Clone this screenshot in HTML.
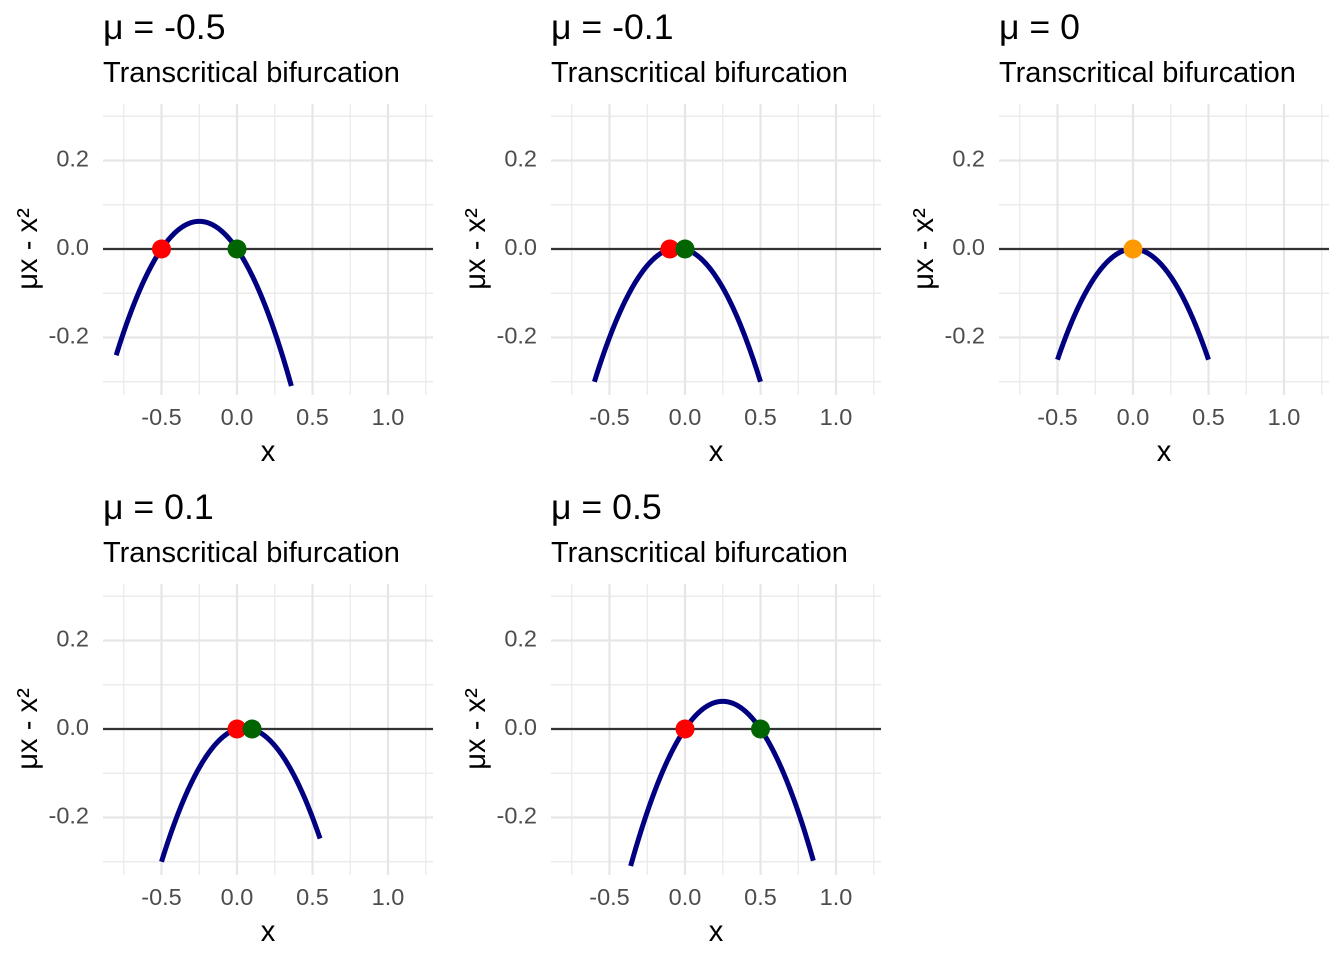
<!DOCTYPE html>
<html><head><meta charset="utf-8"><style>
html,body{margin:0;padding:0;background:#fff;}
svg{display:block;font-family:"Liberation Sans",Arial,sans-serif;}
</style></head><body>
<svg id="s" width="1344" height="960" xmlns="http://www.w3.org/2000/svg"></svg>
<script>
const s=document.getElementById('s');
let h='';
const F=1.62;
const panels=[
 {mu:-0.5,lab:'-0.5',dx:0,dy:0,x0:-0.8,x1:0.36,pts:[[-0.5,'#ff0000'],[0,'#006400']]},
 {mu:-0.1,lab:'-0.1',dx:448,dy:0,x0:-0.6,x1:0.5,pts:[[-0.1,'#ff0000'],[0,'#006400']]},
 {mu:0,lab:'0',dx:896,dy:0,x0:-0.5,x1:0.5,pts:[[0,'#ff9900']]},
 {mu:0.1,lab:'0.1',dx:0,dy:480,x0:-0.5,x1:0.55,pts:[[0,'#ff0000'],[0.1,'#006400']]},
 {mu:0.5,lab:'0.5',dx:448,dy:480,x0:-0.36,x1:0.85,pts:[[0,'#ff0000'],[0.5,'#006400']]},
];
panels.forEach((p,i)=>{
 const X=v=>p.dx+237+v*151, Y=v=>p.dy+249-v*442.5;
 const L=p.dx+103,R=p.dx+433,T=p.dy+104,B=p.dy+395;
 h+=`<clipPath id="c${i}"><rect x="${L}" y="${T}" width="${R-L}" height="${B-T}"/></clipPath>`;
 [-0.75,-0.25,0.25,0.75,1.25].forEach(v=>h+=`<line x1="${X(v)}" x2="${X(v)}" y1="${T}" y2="${B}" stroke="#e8e8e8" stroke-width="1.2"/>`);
 [-0.3,-0.1,0.1,0.3].forEach(v=>h+=`<line x1="${L}" x2="${R}" y1="${Y(v)}" y2="${Y(v)}" stroke="#e8e8e8" stroke-width="1.2"/>`);
 [-0.5,0,0.5,1].forEach(v=>h+=`<line x1="${X(v)}" x2="${X(v)}" y1="${T}" y2="${B}" stroke="#e6e6e6" stroke-width="2.2"/>`);
 [-0.2,0,0.2].forEach(v=>h+=`<line x1="${L}" x2="${R}" y1="${Y(v)}" y2="${Y(v)}" stroke="#e6e6e6" stroke-width="2.2"/>`);
 h+=`<line x1="${L}" x2="${R}" y1="${Y(0)}" y2="${Y(0)}" stroke="#333" stroke-width="2.2"/>`;
 let d='';
 for(let k=0;k<=200;k++){const x=p.x0+(p.x1-p.x0)*k/200;const y=p.mu*x-x*x;d+=(k?'L':'M')+X(x).toFixed(2)+','+Y(y).toFixed(2);}
 h+=`<path d="${d}" fill="none" stroke="#000080" stroke-width="5" clip-path="url(#c${i})"/>`;
 p.pts.forEach(q=>h+=`<circle cx="${X(q[0])}" cy="${Y(0)}" r="9.5" fill="${q[1]}"/>`);
 [['-0.5',-0.5],['0.0',0],['0.5',0.5],['1.0',1]].forEach(t=>h+=`<text x="${X(t[1])}" y="${p.dy+425}" style="font-size:${14.5*F}px" fill="#4d4d4d" text-anchor="middle">${t[0]}</text>`);
 [['0.2',0.2],['0.0',0],['-0.2',-0.2]].forEach(t=>h+=`<text x="${p.dx+89}" y="${Y(t[1])+6}" style="font-size:${14.5*F}px" fill="#4d4d4d" text-anchor="end">${t[0]}</text>`);
 h+=`<text x="${(L+R)/2}" y="${p.dy+461}" style="font-size:${18*F}px" text-anchor="middle">x</text>`;
 h+=`<text transform="translate(${p.dx+37},${p.dy+249}) rotate(-90)" style="font-size:${18*F}px" text-anchor="middle">μx - x²</text>`;
 h+=`<text x="${p.dx+103}" y="${p.dy+39}" style="font-size:${22*F}px">μ = ${p.lab}</text>`;
 h+=`<text x="${p.dx+103}" y="${p.dy+82}" style="font-size:${17.9*F}px">Transcritical bifurcation</text>`;
});
s.innerHTML=h;
</script>
</body></html>
